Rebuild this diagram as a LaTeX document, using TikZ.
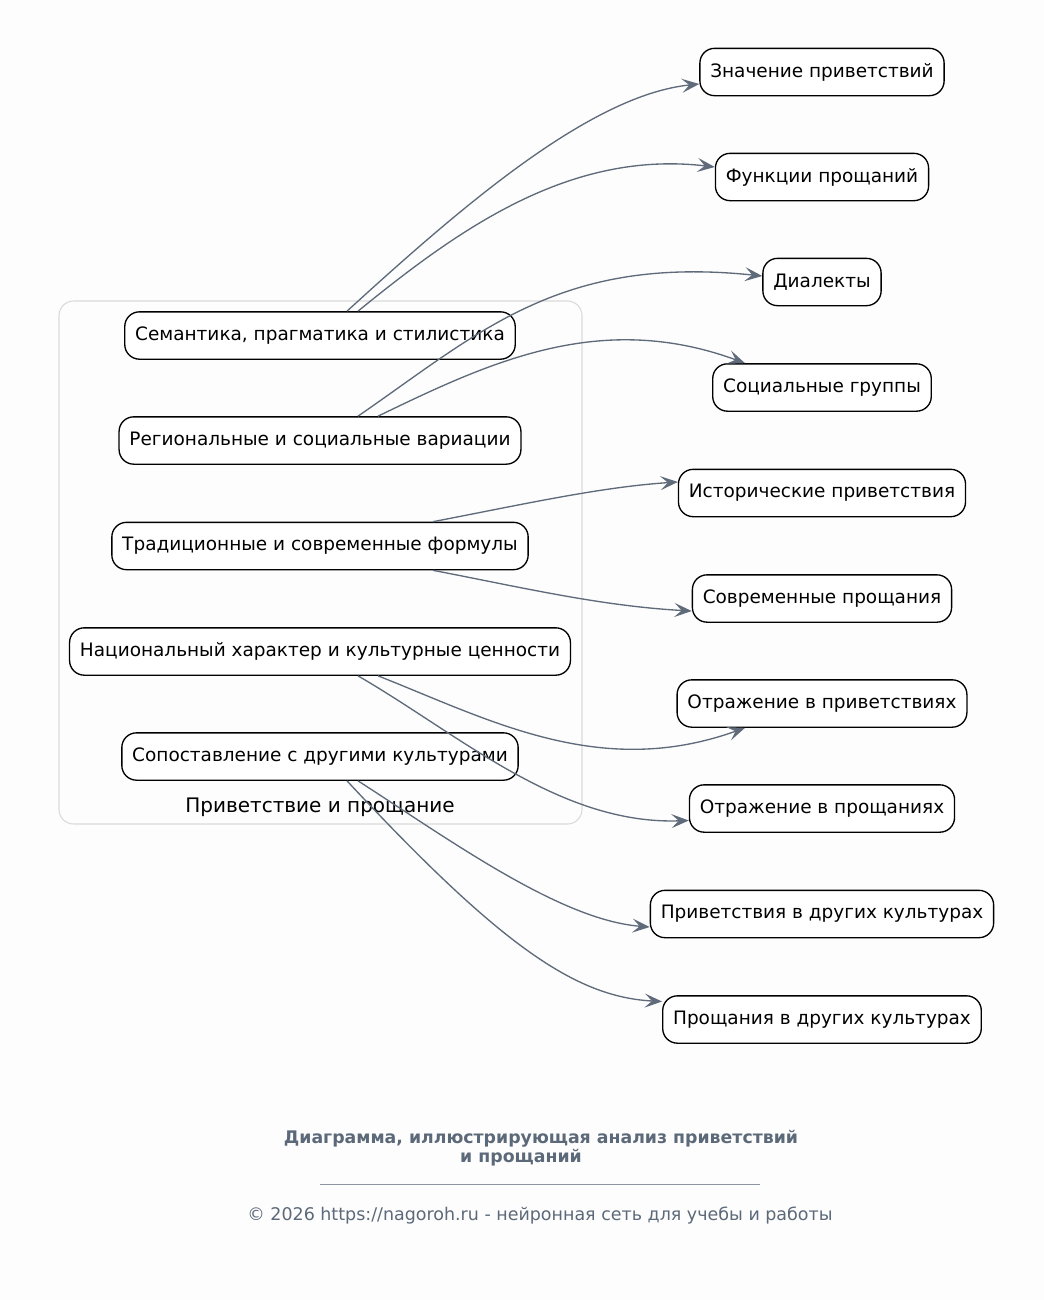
\documentclass[tikz,border=0pt]{standalone}
\usepackage{fontspec}
\setmainfont{DejaVu Sans}
\usetikzlibrary{arrows.meta,calc}
\definecolor{edgec}{HTML}{5F6B7A}
\definecolor{footc}{HTML}{5C6979}
\definecolor{clusc}{HTML}{DADADA}
\definecolor{bgc}{HTML}{FDFDFD}
\begin{document}
\begin{tikzpicture}[x=0.75pt,y=-0.75pt,
  box/.style={draw=black,line width=1pt,rounded corners=11pt,fill=white,
    inner xsep=7.8pt,inner ysep=0pt,minimum height=35.5pt,
    font=\fontsize{13.85pt}{16pt}\selectfont},
  conn/.style={draw=edgec,line width=1pt,
    -{Stealth[length=13pt,width=10.5pt,inset=5.5pt]}}]
\useasboundingbox[fill=bgc] (0,0) rectangle (1044,1300);
% cluster
\draw[clusc,line width=0.8pt,rounded corners=11pt,fill=bgc] (59,301) rectangle (582,824);
\node[font=\fontsize{15pt}{17pt}\selectfont] (cl) at (320,807.5) {Приветствие и прощание};
% left nodes
\node[box] (A) at (320,335.5) {Семантика, прагматика и стилистика};
\node[box] (B) at (320,440.5) {Региональные и социальные вариации};
\node[box] (C) at (320,546) {Традиционные и современные формулы};
\node[box] (D) at (320,651.5) {Национальный характер и культурные ценности};
\node[box] (E) at (320,756.5) {Сопоставление с другими культурами};
% right nodes
\node[box] (n1) at (822,72) {Значение приветствий};
\node[box] (n2) at (822,177) {Функции прощаний};
\node[box] (n3) at (822,282) {Диалекты};
\node[box] (n4) at (822,387.5) {Социальные группы};
\node[box] (n5) at (822,493) {Исторические приветствия};
\node[box] (n6) at (822,598.5) {Современные прощания};
\node[box] (n7) at (822,703.5) {Отражение в приветствиях};
\node[box] (n8) at (822,808.5) {Отражение в прощаниях};
\node[box] (n9) at (822,914) {Приветствия в других культурах};
\node[box] (n10) at (822,1019.5) {Прощания в других культурах};
% edges
\draw[conn] ($(A.north)+(27,0)$) .. controls (460,208) and (590,95) .. ($(n1.west)+(0,12)$);
\draw[conn] ($(A.north)+(38,0)$) .. controls (460,228) and (570,150) .. ($(n2.west)+(0,-10)$);
\draw[conn] ($(B.north)+(38,0)$) .. controls (480,332) and (560,255) .. ($(n3.west)+(0,-6)$);
\draw[conn] ($(B.north)+(58,0)$) .. controls (490,362) and (600,310) .. ($(n4.north)+(-77,0)$);
\draw[conn] ($(C.north)+(113,0)$) .. controls (520,505) and (600,487) .. ($(n5.west)+(0,-11)$);
\draw[conn] ($(C.south)+(113,0)$) .. controls (520,587) and (600,606) .. ($(n6.west)+(0,12.5)$);
\draw[conn] ($(D.south)+(58,0)$) .. controls (490,720) and (600,780) .. ($(n7.south)+(-77,0)$);
\draw[conn] ($(D.south)+(38,0)$) .. controls (460,735) and (560,825) .. ($(n8.west)+(0,12)$);
\draw[conn] ($(E.south)+(38,0)$) .. controls (450,840) and (560,920) .. ($(n9.west)+(0,13)$);
\draw[conn] ($(E.south)+(27,0)$) .. controls (500,945) and (575,997) .. ($(n10.west)+(0,-18)$);
% footer
\node[font=\fontsize{13pt}{14pt}\selectfont\bfseries,text=footc,align=center] (ft) at (541,1148) {Диаграмма, иллюстрирующая анализ приветствий\\и прощаний\hspace*{30pt}};
\coordinate (l1) at (320,1184);
\coordinate (l2) at (760,1184);
\draw[footc!70,line width=0.7pt] (l1) -- (l2);
\node[font=\fontsize{13.1pt}{15pt}\selectfont,text=footc] (cp) at (540,1216) {© 2026 https://nagoroh.ru - нейронная сеть для учебы и работы};
\end{tikzpicture}
\end{document}
